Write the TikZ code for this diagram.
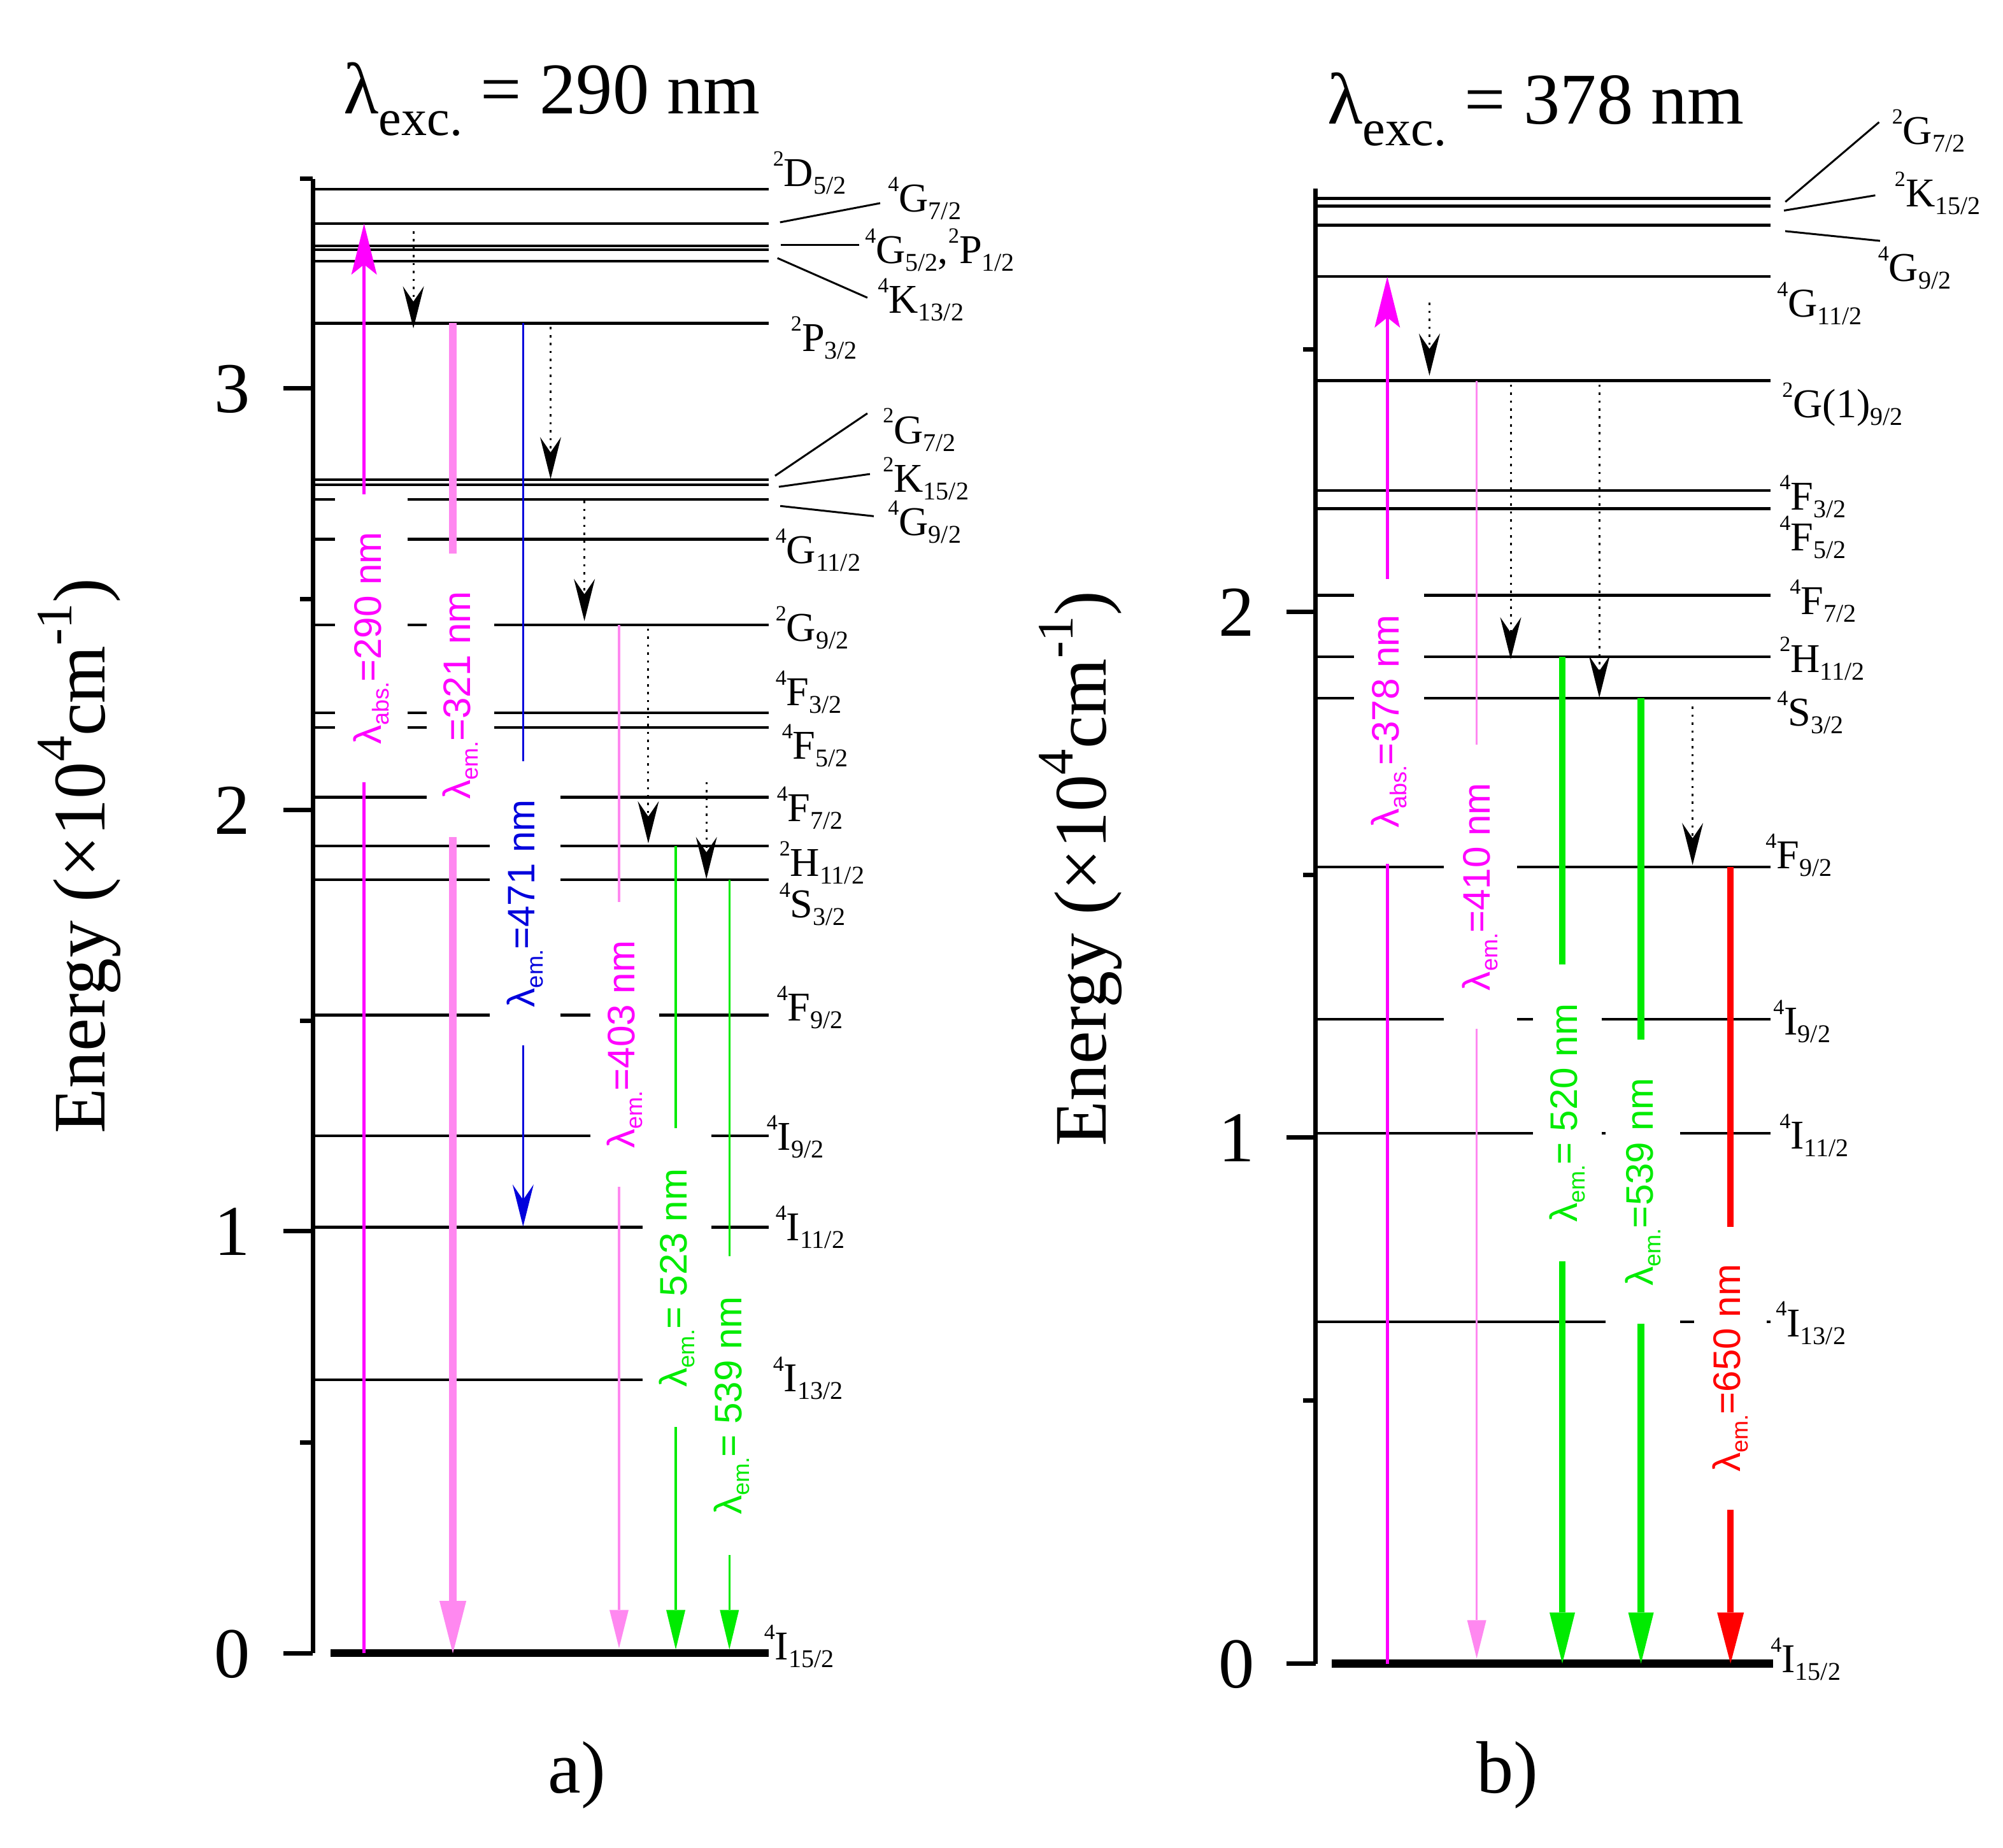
\documentclass[tikz,border=0pt]{standalone}
\usepackage{fontspec}
\setmainfont{Liberation Serif}
\newfontfamily\lsans{Liberation Sans}
\usetikzlibrary{arrows.meta}
\definecolor{mag}{RGB}{255,0,255}
\definecolor{lpink}{RGB}{255,136,240}
\definecolor{eblue}{RGB}{0,0,220}
\definecolor{egreen}{RGB}{0,235,0}
\definecolor{ered}{RGB}{255,0,0}
\newcommand\lv[3]{\raisebox{16pt}{\fontsize{17}{17}\selectfont #1}#2\raisebox{-6pt}{\fontsize{20}{20}\selectfont #3}}
\newcommand\lam[2]{λ\raisebox{-6pt}{\fontsize{18}{18}\selectfont #1}#2}
\newcommand\ttl[1]{λ\raisebox{-17pt}{\fontsize{40}{40}\selectfont exc.} = #1 nm}
\newcommand\ylab{Energy (×10\raisebox{26pt}{\fontsize{40}{40}\selectfont 4}cm\raisebox{26pt}{\fontsize{40}{40}\selectfont -1})}
\tikzset{
  lev/.style={line width=2.2pt},
  gnd/.style={line width=6pt},
  axisl/.style={line width=3.5pt},
  lead/.style={line width=1.5pt},
  lvl/.style={anchor=base west, inner sep=0pt, font=\fontsize{32}{34}\selectfont},
  ticklab/.style={anchor=base, inner sep=0pt, font=\fontsize{56}{58}\selectfont},
  bigtxt/.style={inner sep=0pt, font=\fontsize{58}{60}\selectfont},
  wl/.style={rotate=90, fill=white, inner sep=0pt, font=\lsans\fontsize{30}{32}\selectfont},
  dotarr/.style={line width=1.5pt, dash pattern=on 1.8pt off 4.4pt,
    -{Stealth[length=33pt,width=16.5pt,inset=12pt,line width=0pt]}},
  absarr/.style={draw=mag, line width=2.4pt, -{Stealth[length=40pt,width=20pt,inset=8pt,line width=0pt]}},
  pinkthick/.style={draw=lpink, line width=6pt, -{Triangle[length=41pt,width=21pt,line width=0pt]}},
  pinkthin/.style={draw=lpink, line width=1.6pt, -{Triangle[length=30pt,width=15pt,line width=0pt]}},
  bluearr/.style={draw=eblue, line width=1.3pt, -{Stealth[length=33pt,width=16.5pt,inset=12pt,line width=0pt]}},
  greenthin/.style={draw=egreen, line width=1.6pt, -{Triangle[length=31pt,width=15pt,line width=0pt]}},
  greenthick/.style={draw=egreen, line width=5.3pt, -{Triangle[length=40pt,width=20pt,line width=0pt]}},
  redthick/.style={draw=ered, line width=5pt, -{Triangle[length=40pt,width=21pt,line width=0pt]}}
}
\begin{document}
\begin{tikzpicture}[x=1pt,y=-1pt]
\useasboundingbox (0,0) rectangle (1568,1446);

% ---------------- panel a ----------------
\node[anchor=base west, inner sep=0pt, font=\fontsize{57}{59}\selectfont] (ta) at (268.7,89) {\ttl{290}};
\draw[axisl] (245,140) -- (245,1294);
\foreach \y in {1294,963.5,634,304} \draw[axisl] (222,\y) -- (245,\y);
\foreach \y in {1129,799,469,140} \draw[axisl] (235,\y) -- (245,\y);
\node[ticklab] (a0) at (182,1313) {0};
\node[ticklab] (a1) at (182,982.5) {1};
\node[ticklab] (a2) at (182,653) {2};
\node[ticklab] (a3) at (182,323) {3};
\node[bigtxt, rotate=90, anchor=base] (ya) at (82,670) {\ylab};
\node[bigtxt, anchor=base] (lab-a) at (451.5,1403) {a)};

\foreach \y in {148,175,192.5,195.5,204.5,253,375.5,379.5,391,422,489,558,569.5,624,662,688.5,794.5,889,960.5}
  \draw[lev] (247,\y) -- (602,\y);
\draw[lev] (247,1080) -- (503,1080);
\draw[gnd] (259,1294) -- (602,1294);

% leaders a
\draw[lead] (610.6,174) -- (689,159);
\draw[lead] (611,191.5) -- (672.5,191.5);
\draw[lead] (608.6,202) -- (679,233);
\draw[lead] (606.7,372.4) -- (679,323.5);
\draw[lead] (609.7,381) -- (681,371);
\draw[lead] (610.8,396) -- (684,404);

% level labels a
\node[lvl] (a-D52) at (605,146) {\lv{2}{D}{5/2}};
\node[lvl] (a-G72) at (695,166) {\lv{4}{G}{7/2}};
\node[lvl] (a-G52) at (677,206) {\lv{4}{G}{5/2},\lv{2}{P}{1/2}};
\node[lvl] (a-K132) at (687,245) {\lv{4}{K}{13/2}};
\node[lvl] (a-P32) at (619,275) {\lv{2}{P}{3/2}};
\node[lvl] (a-2G72) at (691,347) {\lv{2}{G}{7/2}};
\node[lvl] (a-K152) at (691,385) {\lv{2}{K}{15/2}};
\node[lvl] (a-G92) at (695,419) {\lv{4}{G}{9/2}};
\node[lvl] (a-G112) at (607,441) {\lv{4}{G}{11/2}};
\node[lvl] (a-2G92) at (607,502) {\lv{2}{G}{9/2}};
\node[lvl] (a-F32) at (607,552) {\lv{4}{F}{3/2}};
\node[lvl] (a-F52) at (612,594) {\lv{4}{F}{5/2}};
\node[lvl] (a-F72) at (608,643) {\lv{4}{F}{7/2}};
\node[lvl] (a-H112) at (610,686) {\lv{2}{H}{11/2}};
\node[lvl] (a-S32) at (610,718) {\lv{4}{S}{3/2}};
\node[lvl] (a-F92) at (608,799) {\lv{4}{F}{9/2}};
\node[lvl] (a-I92) at (600,900) {\lv{4}{I}{9/2}};
\node[lvl] (a-I112) at (607,971) {\lv{4}{I}{11/2}};
\node[lvl] (a-I132) at (605,1089) {\lv{4}{I}{13/2}};
\node[lvl] (a-I152) at (598,1299) {\lv{4}{I}{15/2}};

% transitions a
\draw[absarr] (285,1294) -- (285,175);
\draw[dotarr] (323.6,181) -- (323.6,257);
\draw[pinkthick] (354.5,253) -- (354.5,1294);
\draw[bluearr] (409.5,253) -- (409.5,960);
\draw[dotarr] (431,256) -- (431,375);
\draw[dotarr] (457.5,392) -- (457.5,486);
\draw[pinkthin] (484.6,489) -- (484.6,1290);
\draw[dotarr] (507.5,492) -- (507.5,660);
\draw[dotarr] (553,612) -- (553,688);
\draw[greenthin] (529,662) -- (529,1291);
\draw[greenthin] (571,688.5) -- (571,1291);

% wavelength labels a
\node[wl, text=mag, minimum width=225pt, minimum height=57pt] (wa1) at (290.5,499.5) {\lam{abs.}{=290 nm}};
\node[wl, text=mag, minimum width=222pt, minimum height=53pt] (wa2) at (360.5,544) {\lam{em.}{=321 nm}};
\node[wl, text=eblue, minimum width=222pt, minimum height=55.5pt] (wa3) at (411,707) {\lam{em.}{=471 nm}};
\node[wl, text=mag, minimum width=223pt, minimum height=53.6pt] (wa4) at (489,817.5) {\lam{em.}{=403 nm}};
\node[wl, text=egreen, minimum width=234pt, minimum height=54pt] (wa5) at (530,1000) {\lam{em.}{= 523 nm}};
\node[wl, text=egreen, minimum width=234pt, minimum height=54pt] (wa6) at (573,1100) {\lam{em.}{= 539 nm}};

% ---------------- panel b ----------------
\node[anchor=base west, inner sep=0pt, font=\fontsize{57}{59}\selectfont] (tb) at (1039,97) {\ttl{378}};
\draw[axisl] (1030,147.6) -- (1030,1302);
\foreach \y in {1302,890,479} \draw[axisl] (1007,\y) -- (1030,\y);
\foreach \y in {1096,685,273.5} \draw[axisl] (1020,\y) -- (1030,\y);
\node[ticklab] (b0) at (968,1321) {0};
\node[ticklab] (b1) at (968,909) {1};
\node[ticklab] (b2) at (968,498) {2};
\node[bigtxt, rotate=90, anchor=base] (yb) at (866,680) {\ylab};
\node[bigtxt, anchor=base] (lab-b) at (1180,1403) {b)};

\foreach \y in {155.4,161.3,176.3,216.5,297.8,384,398,466,514,546.5,678.6,797.8,887,1034.5}
  \draw[lev] (1031,\y) -- (1386,\y);
\draw[gnd] (1042.6,1302) -- (1388,1302);

% leaders b
\draw[lead] (1397.6,158) -- (1471,95.6);
\draw[lead] (1396.5,164.8) -- (1468,152.9);
\draw[lead] (1397.5,180.9) -- (1471.7,188.5);

% level labels b
\node[lvl] (b-G72) at (1481,113) {\lv{2}{G}{7/2}};
\node[lvl] (b-K152) at (1483,162) {\lv{2}{K}{15/2}};
\node[lvl] (b-G92) at (1470,220) {\lv{4}{G}{9/2}};
\node[lvl] (b-G112) at (1391,248) {\lv{4}{G}{11/2}};
\node[lvl] (b-G192) at (1395,327) {\lv{2}{G(1)}{9/2}};
\node[lvl] (b-F32) at (1393,399) {\lv{4}{F}{3/2}};
\node[lvl] (b-F52) at (1393,431) {\lv{4}{F}{5/2}};
\node[lvl] (b-F72) at (1401,481) {\lv{4}{F}{7/2}};
\node[lvl] (b-H112) at (1393,526) {\lv{2}{H}{11/2}};
\node[lvl] (b-S32) at (1391,568) {\lv{4}{S}{3/2}};
\node[lvl] (b-F92) at (1382,680) {\lv{4}{F}{9/2}};
\node[lvl] (b-I92) at (1388,810) {\lv{4}{I}{9/2}};
\node[lvl] (b-I112) at (1393,899) {\lv{4}{I}{11/2}};
\node[lvl] (b-I132) at (1390,1046) {\lv{4}{I}{13/2}};
\node[lvl] (b-I152) at (1386,1309) {\lv{4}{I}{15/2}};

% transitions b
\draw[absarr] (1086,1302) -- (1086,216.5);
\draw[dotarr] (1119,237) -- (1119,294);
\draw[pinkthin] (1156,298) -- (1156,1298);
\draw[dotarr] (1182.6,301) -- (1182.6,516);
\draw[dotarr] (1252,301) -- (1252,546);
\draw[greenthick] (1223,514) -- (1223,1302);
\draw[greenthick] (1284.6,546.5) -- (1284.6,1302);
\draw[dotarr] (1325,553) -- (1325,677);
\draw[redthick] (1354.7,678.6) -- (1354.7,1302);

% wavelength labels b
\node[wl, text=mag, minimum width=223pt, minimum height=55pt] (wb1) at (1087.5,564.5) {\lam{abs.}{=378 nm}};
\node[wl, text=mag, minimum width=222pt, minimum height=57.5pt] (wb2) at (1158.75,694) {\lam{em.}{=410 nm}};
\node[wl, text=egreen, minimum width=232pt, minimum height=54pt] (wb3) at (1227,871) {\lam{em.}{= 520 nm}};
\node[wl, text=egreen, minimum width=222.4pt, minimum height=58pt] (wb4) at (1286,925) {\lam{em.}{=539 nm}};
\node[wl, text=ered, minimum width=221.5pt, minimum height=57pt] (wb5) at (1354.5,1070.75) {\lam{em.}{=650 nm}};
\end{tikzpicture}
\end{document}
